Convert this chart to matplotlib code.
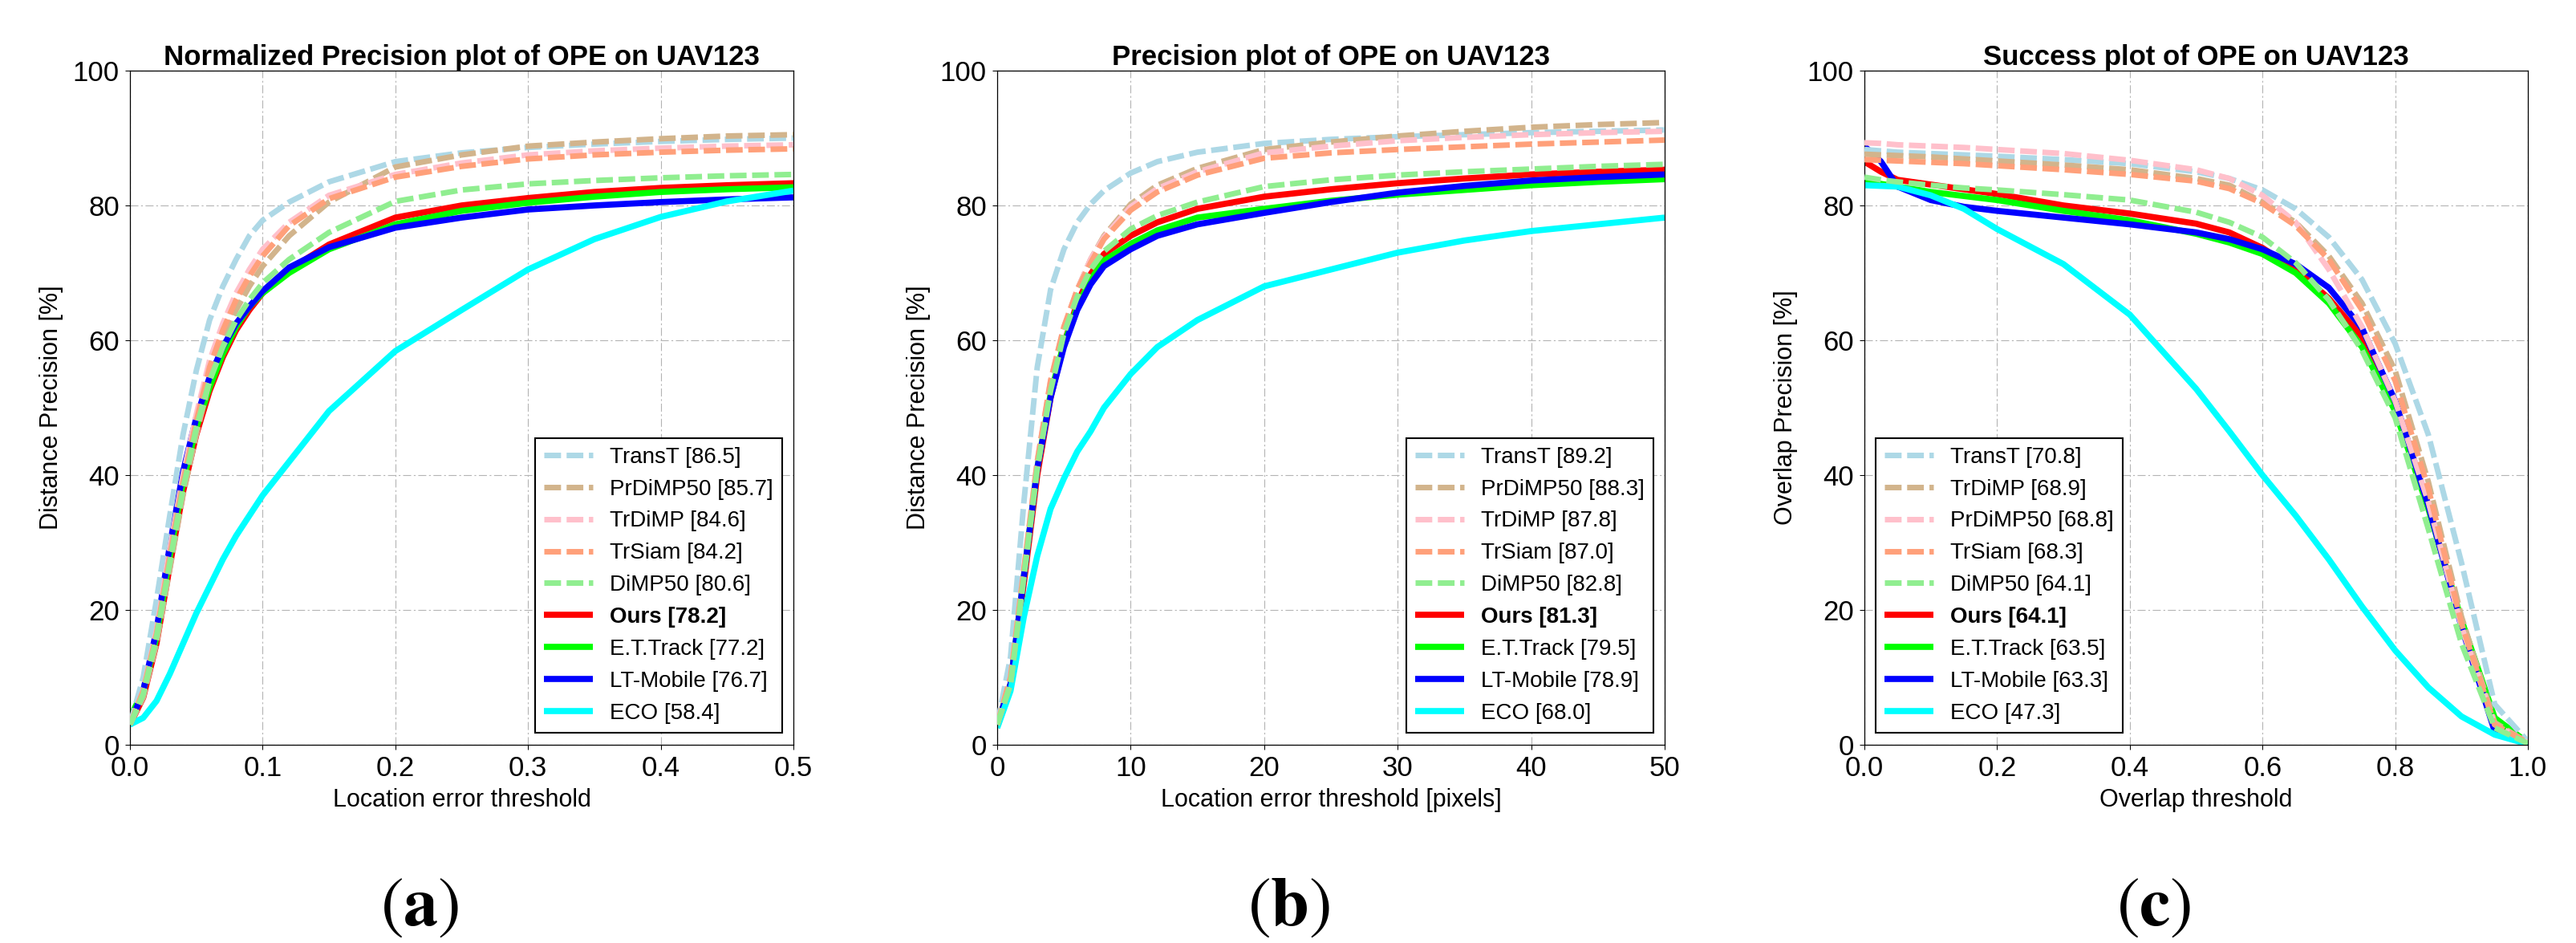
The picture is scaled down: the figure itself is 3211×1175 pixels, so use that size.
import matplotlib
matplotlib.use("Agg")
import matplotlib.pyplot as plt

plt.rcParams['font.family'] = ['Liberation Sans', 'DejaVu Sans']

# ---- data ----
# colours / styles follow the rank in each legend
RANK_COLORS = ['#add8e6', '#d2b48c', '#ffc0cb', '#ffa07a', '#90ee90',
               '#ff0000', '#00ff00', '#0000ff', '#00ffff']
N_DASHED = 5

# (a) normalized precision
A_X = [0, 0.01, 0.02, 0.03, 0.04, 0.05, 0.06, 0.07, 0.08, 0.09, 0.1,
       0.12, 0.15, 0.2, 0.25, 0.3, 0.35, 0.4, 0.45, 0.5]
A_NAMES = ['TransT', 'PrDiMP50', 'TrDiMP', 'TrSiam', 'DiMP50',
           'Ours', 'E.T.Track', 'LT-Mobile', 'ECO']
A_SCORES = [86.5, 85.7, 84.6, 84.2, 80.6, 78.2, 77.2, 76.7, 58.4]
A_Y = [
    [3, 10, 21.5, 34, 46, 55.5, 63, 68, 72, 75.5, 77.8, 80.5, 83.5, 86.5, 87.8, 88.6, 89.1, 89.5, 89.8, 90.0],
    [3, 7, 15, 26, 37, 46, 54, 60, 64.5, 68, 71, 75.5, 80.5, 85.7, 87.5, 88.8, 89.4, 89.9, 90.3, 90.5],
    [3, 8, 17, 29, 40, 49, 57, 62.5, 67, 70.5, 73.5, 77.5, 81.5, 84.6, 86.3, 87.5, 88.1, 88.5, 88.8, 89.0],
    [3, 8, 16.5, 28, 39, 48, 56, 61.5, 66, 69.5, 72.5, 77, 81, 84.2, 85.8, 86.9, 87.5, 87.9, 88.2, 88.4],
    [3, 7.5, 16, 27, 38, 47, 54, 59, 63, 66, 68.5, 72, 76, 80.6, 82.3, 83.2, 83.7, 84.1, 84.4, 84.6],
    [3, 7, 15, 26.5, 37.5, 46, 52.5, 57.5, 61.5, 64.5, 67, 70.5, 74.2, 78.2, 80.0, 81.1, 82.0, 82.6, 83.0, 83.3],
    [4, 8, 16, 28, 39, 47, 53, 58, 62, 65, 67, 70, 73.5, 77.2, 79.2, 80.4, 81.3, 82.0, 82.4, 82.7],
    [3, 8, 17, 29.5, 40.5, 48.5, 54.5, 59, 62.5, 65, 67.3, 70.8, 73.8, 76.7, 78.2, 79.4, 80.0, 80.5, 80.9, 81.2],
    [3, 4, 6.5, 10.5, 15, 19.5, 23.5, 27.5, 31, 34, 37, 42, 49.5, 58.4, 64.5, 70.5, 75, 78.3, 80.6, 82.2],
]

# (b) precision
B_X = [0, 1, 2, 3, 4, 5, 6, 7, 8, 10, 12, 15, 20, 25, 30, 35, 40, 45, 50]
B_NAMES = ['TransT', 'PrDiMP50', 'TrDiMP', 'TrSiam', 'DiMP50',
           'Ours', 'E.T.Track', 'LT-Mobile', 'ECO']
B_SCORES = [89.2, 88.3, 87.8, 87.0, 82.8, 81.3, 79.5, 78.9, 68.0]
B_Y = [
    [3, 13, 36, 56, 67.5, 73.5, 77.5, 80.2, 82.2, 84.8, 86.5, 87.9, 89.2, 89.8, 90.2, 90.5, 90.8, 91.0, 91.2],
    [3, 9, 25, 41, 53, 61.5, 67.5, 72, 75.5, 80.2, 83, 85.5, 88.3, 89.4, 90.3, 91.0, 91.6, 92.0, 92.3],
    [3, 10, 26, 42, 54, 62, 67.5, 72, 75.3, 79.8, 82.5, 85, 87.8, 88.8, 89.6, 90.1, 90.5, 90.8, 91.0],
    [3, 10, 26, 42, 54, 62, 67.5, 71.5, 75, 79.3, 82, 84.5, 87.0, 87.8, 88.3, 88.7, 89.1, 89.4, 89.7],
    [3, 9, 25, 41, 52.5, 61, 66.5, 70.5, 73.2, 76.5, 78.5, 80.5, 82.8, 83.8, 84.5, 85.0, 85.4, 85.8, 86.1],
    [3, 9, 24, 40, 51.5, 59.5, 65.5, 69.8, 72.8, 75.5, 77.5, 79.5, 81.3, 82.4, 83.3, 84.0, 84.6, 85.0, 85.3],
    [3, 9, 25, 41, 52, 59.5, 65, 69, 71.8, 74.3, 76.3, 78.2, 79.5, 80.7, 81.6, 82.3, 83.0, 83.5, 83.9],
    [3, 9, 25, 41, 51.5, 59, 64.5, 68.3, 71, 73.5, 75.5, 77.2, 78.9, 80.5, 81.9, 82.9, 83.7, 84.2, 84.6],
    [2.5, 8, 19, 28, 35, 39.5, 43.5, 46.5, 50, 55, 59, 63, 68.0, 70.5, 73, 74.8, 76.2, 77.2, 78.2],
]

# (c) success
C_X = [0, 0.025, 0.05, 0.1, 0.15, 0.2, 0.3, 0.4, 0.5, 0.55, 0.6, 0.65,
       0.7, 0.75, 0.8, 0.85, 0.9, 0.95, 1.0]
C_NAMES = ['TransT', 'TrDiMP', 'PrDiMP50', 'TrSiam', 'DiMP50',
           'Ours', 'E.T.Track', 'LT-Mobile', 'ECO']
C_SCORES = [70.8, 68.9, 68.8, 68.3, 64.1, 64.1, 63.5, 63.3, 47.3]
C_Y = [
    [88.3, 88.1, 87.9, 87.7, 87.5, 87.3, 86.8, 86.2, 85.0, 84.0, 82.3, 79.5, 75.3, 69, 59.5, 46, 27, 6, 0.5],
    [87.6, 87.5, 87.4, 87.2, 86.9, 86.6, 86.0, 85.3, 84.0, 83.0, 80.5, 77.5, 72.5, 65.5, 55.5, 39, 19, 3.3, 0.3],
    [89.3, 89.2, 89.0, 88.8, 88.6, 88.3, 87.7, 86.7, 85.3, 84.0, 81.5, 77.5, 70.5, 62, 51, 36, 17.5, 3, 0.3],
    [86.8, 86.7, 86.6, 86.4, 86.2, 85.9, 85.3, 84.6, 83.6, 82.5, 80.3, 77, 72, 64.5, 54, 38, 18, 3, 0.3],
    [84.2, 83.8, 83.5, 83.0, 82.6, 82.3, 81.6, 80.8, 79.0, 77.5, 75.3, 71.5, 66, 58.5, 48.5, 32, 15, 2.5, 0.2],
    [86.5, 85, 83.8, 83.1, 82.4, 81.7, 80.0, 78.8, 77.3, 76.0, 73.7, 70.5, 66.2, 60.5, 50.5, 35.5, 18, 3.5, 0.3],
    [83.5, 83.2, 82.8, 82.0, 81.4, 80.8, 79.2, 77.8, 75.8, 74.5, 72.8, 70.0, 65.5, 59, 49.5, 35, 18.5, 4, 0.3],
    [88.8, 86.5, 82.8, 80.8, 79.8, 79.2, 78.2, 77.2, 76.0, 75.0, 73.5, 71.3, 67.8, 61.8, 51, 35.5, 17.5, 2, 0.2],
    [83.0, 82.9, 82.8, 81.5, 79.5, 76.5, 71.3, 63.8, 52.8, 46.5, 40, 34, 27.5, 20.5, 14, 8.5, 4.2, 1.5, 0.1],
]

W, H = 3212, 1175
fig = plt.figure(figsize=(W / 100, H / 100), dpi=100)


def draw_panel(left_px, width_px, x, ys, names, scores, title, xlabel, ylabel,
               xticks, xticklabels, xmax, legend_loc, legend_anchor, tag, tag_x):
    ax = fig.add_axes([left_px / W, 1 - 928 / H, width_px / W, 840 / H])
    handles = []
    # draw worst first so the dashed curves end up on top
    for i in reversed(range(len(names))):
        dashed = i < N_DASHED
        kw = dict(color=RANK_COLORS[i], solid_capstyle='butt')
        if dashed:
            line, = ax.plot(x, ys[i], lw=5, dashes=(3.0, 1.0), zorder=3 + i * 0.01, **kw)
        else:
            line, = ax.plot(x, ys[i], lw=5.5, zorder=2 + i * 0.01, **kw)
        line.set_label(f'{names[i]} [{scores[i]:.1f}]')
        handles.insert(0, line)

    ax.set_xlim(0, xmax)
    ax.set_ylim(0, 100)
    ax.set_xticks(xticks)
    ax.set_xticklabels(xticklabels)
    ax.set_yticks([0, 20, 40, 60, 80, 100])
    ax.tick_params(direction='out', length=4.5, width=0.75, labelsize=25, pad=5,
                   top=False, right=False)
    ax.grid(True, color='#b4b4b4', lw=0.8, linestyle=(0, (9, 3, 2, 3)))
    ax.set_axisbelow(True)
    for s in ax.spines.values():
        s.set_linewidth(0.9)

    ax.set_title(title, fontsize=25, fontweight='bold', pad=4)
    ax.set_xlabel(xlabel, fontsize=22, va='top')
    ax.xaxis.set_label_coords(0.5, -0.064)
    ax.set_ylabel(ylabel, fontsize=22)
    ax.yaxis.set_label_coords(-0.1, 0.5)

    leg = ax.legend(handles=handles, loc=legend_loc, bbox_to_anchor=legend_anchor,
                    borderaxespad=0, fontsize=20, handlelength=2.2,
                    handletextpad=0.75, labelspacing=0.5, borderpad=0.4,
                    fancybox=False, framealpha=1, edgecolor='black')
    leg.get_frame().set_linewidth(1.5)
    for t in leg.get_texts():
        if t.get_text().startswith('Ours'):
            t.set_fontweight('bold')

    fig.text(tag_x / W, 1 - 1131 / H, r'$(\mathbf{' + tag + r'})$', fontsize=62,
             ha='center', va='center', math_fontfamily='stix')
    return ax


draw_panel(162, 827, A_X, A_Y, A_NAMES, A_SCORES,
           'Normalized Precision plot of OPE on UAV123', 'Location error threshold',
           'Distance Precision [%]', [0, 0.1, 0.2, 0.3, 0.4, 0.5],
           ['0.0', '0.1', '0.2', '0.3', '0.4', '0.5'], 0.5,
           'lower right', (0.983, 0.018), 'a', 523)

draw_panel(1243, 832, B_X, B_Y, B_NAMES, B_SCORES,
           'Precision plot of OPE on UAV123', 'Location error threshold [pixels]',
           'Distance Precision [%]', [0, 10, 20, 30, 40, 50],
           ['0', '10', '20', '30', '40', '50'], 50,
           'lower right', (0.983, 0.018), 'b', 1607)

draw_panel(2324, 827, C_X, C_Y, C_NAMES, C_SCORES,
           'Success plot of OPE on UAV123', 'Overlap threshold',
           'Overlap Precision [%]', [0, 0.2, 0.4, 0.6, 0.8, 1.0],
           ['0.0', '0.2', '0.4', '0.6', '0.8', '1.0'], 1.0,
           'lower left', (0.017, 0.018), 'c', 2685)

fig.savefig('out.png', dpi=100, facecolor='white')
